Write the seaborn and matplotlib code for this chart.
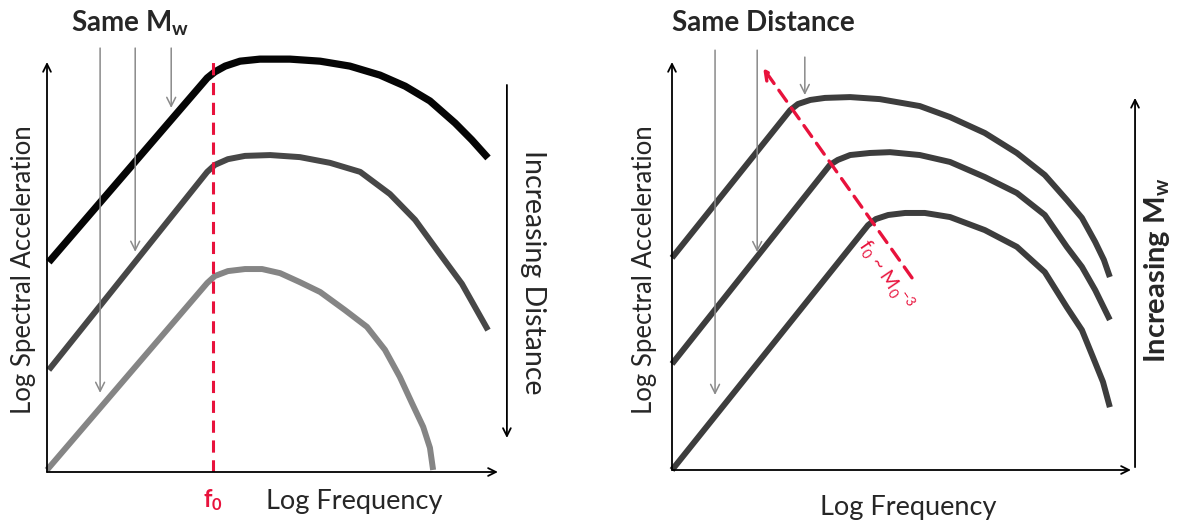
import seaborn as sns
import matplotlib.pyplot as plt
import pandas as pd

# schematic spectra, both panels in arbitrary units 0..10 (log f, log SA)
# left panel: same Mw, increasing distance
left_top_f = [0.04, 3.56, 3.73, 3.96, 4.29, 4.73, 5.40, 6.07, 6.73, 7.40, 7.96, 8.51, 9.07, 9.44, 9.80]
left_top_a = [5.12, 9.61, 9.76, 9.90, 10.02, 10.07, 10.07, 10.02, 9.90, 9.68, 9.41, 9.05, 8.51, 8.10, 7.66]

left_mid_f = [0.04, 3.56, 3.73, 4.02, 4.40, 4.96, 5.62, 6.29, 6.96, 7.62, 8.18, 8.67, 9.22, 9.80]
left_mid_a = [2.49, 7.32, 7.49, 7.63, 7.71, 7.73, 7.68, 7.54, 7.32, 6.78, 6.15, 5.41, 4.59, 3.46]

left_low_f = [0.00, 3.56, 3.73, 4.02, 4.40, 4.78, 5.18, 5.62, 6.07, 6.62, 7.11, 7.51, 7.84, 8.11, 8.36, 8.51, 8.58]
left_low_a = [0.05, 4.61, 4.78, 4.90, 4.95, 4.95, 4.85, 4.63, 4.39, 3.95, 3.54, 2.98, 2.32, 1.68, 1.10, 0.59, 0.05]

f0_left = 3.69

# right panel: same distance, increasing Mw
right_top_f = [0.00, 2.58, 2.75, 3.02, 3.34, 3.89, 4.54, 5.41, 6.07, 6.83, 7.53, 8.14, 8.62, 8.95, 9.24, 9.43, 9.56]
right_top_a = [5.20, 8.82, 8.97, 9.07, 9.12, 9.14, 9.09, 8.92, 8.65, 8.26, 7.77, 7.23, 6.62, 6.18, 5.59, 5.15, 4.73]

right_mid_f = [0.00, 3.45, 3.62, 3.89, 4.32, 4.76, 5.41, 6.07, 6.83, 7.53, 8.14, 8.62, 8.95, 9.24, 9.56]
right_mid_a = [2.60, 7.48, 7.60, 7.72, 7.77, 7.79, 7.72, 7.55, 7.18, 6.79, 6.25, 5.47, 4.98, 4.41, 3.68]

right_low_f = [0.00, 4.28, 4.45, 4.72, 5.09, 5.52, 6.07, 6.83, 7.53, 8.14, 8.62, 8.95, 9.19, 9.41, 9.56]
right_low_a = [0.00, 6.00, 6.15, 6.25, 6.30, 6.30, 6.20, 5.88, 5.47, 4.85, 3.99, 3.43, 2.77, 2.16, 1.54]

# f0 ~ M0 trend (arrow tail -> head)
trend_f = [5.24, 1.99]
trend_a = [4.71, 9.85]

# gray "drop" arrows above each curve: x, top, tip
left_drop_x = [1.18, 1.96, 2.76]
left_drop_tip = [1.93, 5.37, 8.88]
right_drop_x = [0.94, 1.86, 2.90]
right_drop_top = [10.29, 10.29, 10.12]
right_drop_tip = [1.84, 5.34, 9.19]

RED = "#e8123c"

sns.set_style("white")
plt.rcParams["font.family"] = ["Lato", "DejaVu Sans"]
plt.rcParams["mathtext.default"] = "regular"

W, H = 1178, 524
fig = plt.figure(figsize=(W / 100, H / 100), dpi=100)
ax_l = fig.add_axes([47 / W, (H - 472) / H, 450 / W, 410 / H])
ax_r = fig.add_axes([672 / W, (H - 470) / H, 458 / W, 408 / H])


def draw_curve(ax, f, a, color, lw):
    df = pd.DataFrame({"logf": f, "loga": a})
    sns.lineplot(data=df, x="logf", y="loga", ax=ax, sort=False, color=color,
                 lw=lw, solid_capstyle="butt", solid_joinstyle="round",
                 clip_on=False)


def arrow(ax, x0, y0, x1, y1, color="black", lw=1.3, ls="-", head=8):
    ax.annotate("", xy=(x1, y1), xytext=(x0, y0), annotation_clip=False,
                arrowprops=dict(arrowstyle="->", color=color, lw=lw, ls=ls,
                                mutation_scale=head, shrinkA=0, shrinkB=0))


for ax in (ax_l, ax_r):
    ax.set_xlim(0, 10)
    ax.set_ylim(0, 10)
    ax.set_axis_off()
    arrow(ax, 0, 0, 10.02, 0, head=14)
    arrow(ax, 0, 0, 0, 10, head=14)

# left panel
draw_curve(ax_l, left_low_f, left_low_a, "#858585", 4.3)
draw_curve(ax_l, left_mid_f, left_mid_a, "#474747", 4.3)
draw_curve(ax_l, left_top_f, left_top_a, "#050505", 5.2)
ax_l.axvline(f0_left, ymin=0, ymax=1.0, color=RED, lw=2.2, ls=(0, (4, 2.5)))
for x, tip in zip(left_drop_x, left_drop_tip):
    arrow(ax_l, x, 10.34, x, tip, color="#8a8a8a", lw=1.1, head=16)
arrow(ax_l, 10.22, 9.44, 10.22, 0.83, head=14)

ax_l.text(1.84, 10.95, "Same M$_w$", fontsize=20, fontweight="bold",
          ha="center", va="center")
ax_l.text(-0.52, 4.93, "Log Spectral Acceleration", fontsize=18.5,
          rotation=90, ha="center", va="center")
ax_l.text(6.82, -0.73, "Log Frequency", fontsize=19.5, ha="center", va="center")
ax_l.text(f0_left, -0.68, "f$_0$", fontsize=17, color=RED, fontweight="bold",
          ha="center", va="center")
ax_l.text(10.8, 4.88, "Increasing Distance", fontsize=20.5, rotation=-90,
          ha="center", va="center")

# right panel
draw_curve(ax_r, right_low_f, right_low_a, "#3d3d3d", 4.3)
draw_curve(ax_r, right_mid_f, right_mid_a, "#3d3d3d", 4.3)
draw_curve(ax_r, right_top_f, right_top_a, "#3d3d3d", 4.3)
for x, top, tip in zip(right_drop_x, right_drop_top, right_drop_tip):
    arrow(ax_r, x, top, x, tip, color="#8a8a8a", lw=1.1, head=16)
arrow(ax_r, trend_f[0], trend_a[0], trend_f[1], trend_a[1], color=RED,
      lw=2.4, ls=(0, (4, 2.5)), head=16)
ax_r.text(4.67, 4.78, "f$_0$ ~ M$_0$$^{-3}$", fontsize=14, color=RED,
          rotation=-56, ha="center", va="center", rotation_mode="anchor")
arrow(ax_r, 10.11, 0.07, 10.11, 9.12, head=14)

ax_r.text(1.99, 10.96, "Same Distance", fontsize=20, fontweight="bold",
          ha="center", va="center")
ax_r.text(-0.59, 4.9, "Log Spectral Acceleration", fontsize=18.5,
          rotation=90, ha="center", va="center")
ax_r.text(5.15, -0.93, "Log Frequency", fontsize=19.5, ha="center", va="center")
ax_r.text(10.6, 4.9, "Increasing M$_w$", fontsize=21, fontweight="bold",
          rotation=90, ha="center", va="center")

fig.savefig("out.png", dpi=100, facecolor="white")
